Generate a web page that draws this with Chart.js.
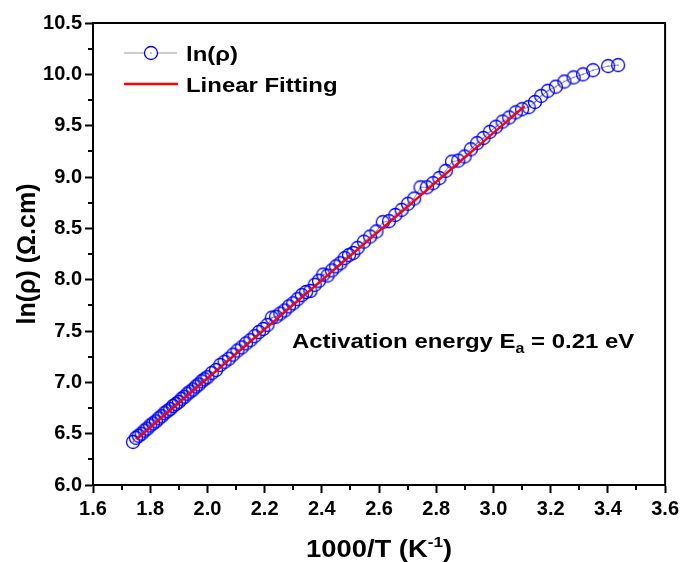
<!DOCTYPE html>
<html>
<head>
<meta charset="utf-8">
<script src="https://cdn.jsdelivr.net/npm/chart.js@4.4.0/dist/chart.umd.min.js"></script>
<style>
  html, body { margin: 0; padding: 0; background: #fff; }
  #wrap { width: 683px; height: 562px; position: relative; }
</style>
</head>
<body>
<div id="wrap"><canvas id="chart"></canvas></div>
<script>
// 1000/T (K^-1) values
const invT = [
  1.740, 1.750, 1.760, 1.770, 1.780, 1.790, 1.800, 1.810, 1.820, 1.830,
  1.840, 1.850, 1.860, 1.870, 1.880, 1.890, 1.900, 1.910, 1.920, 1.930,
  1.940, 1.950, 1.960, 1.970, 1.980, 1.990, 2.000, 2.015, 2.030, 2.045,
  2.060, 2.075, 2.090, 2.105, 2.120, 2.135, 2.150, 2.165, 2.180, 2.195,
  2.210, 2.225, 2.240, 2.255, 2.270, 2.285, 2.300, 2.315, 2.330, 2.345,
  2.360, 2.375, 2.390, 2.405, 2.420, 2.435, 2.450, 2.465, 2.480, 2.495,
  2.510, 2.525, 2.547, 2.569, 2.591, 2.613, 2.635, 2.657, 2.679, 2.701,
  2.723, 2.745, 2.767, 2.789, 2.811, 2.833, 2.855, 2.877, 2.899, 2.921,
  2.943, 2.965, 2.987, 3.009, 3.032, 3.055, 3.078, 3.100, 3.123, 3.145,
  3.167, 3.190, 3.218, 3.248, 3.280, 3.313, 3.348, 3.401, 3.436
];
// ln(rho) (ohm.cm)
const lnRho = [
  6.42, 6.46, 6.48, 6.50, 6.53, 6.55, 6.58, 6.60, 6.62, 6.65,
  6.67, 6.70, 6.72, 6.74, 6.77, 6.79, 6.81, 6.84, 6.86, 6.89,
  6.91, 6.93, 6.96, 6.98, 7.01, 7.03, 7.05, 7.09, 7.12, 7.17,
  7.20, 7.23, 7.27, 7.31, 7.34, 7.38, 7.41, 7.45, 7.49, 7.52,
  7.56, 7.63, 7.64, 7.67, 7.70, 7.74, 7.77, 7.81, 7.85, 7.88,
  7.89, 7.95, 7.99, 8.05, 8.04, 8.09, 8.13, 8.16, 8.21, 8.24,
  8.26, 8.31, 8.37, 8.42, 8.47, 8.56, 8.57, 8.63, 8.68, 8.74,
  8.79, 8.90, 8.90, 8.94, 8.99, 9.06, 9.15, 9.16, 9.20, 9.27,
  9.33, 9.38, 9.44, 9.49, 9.54, 9.58, 9.63, 9.66, 9.68, 9.73,
  9.79, 9.84, 9.88, 9.93, 9.97, 10.00, 10.04, 10.08, 10.09
];
// linear fit end points
const fitX = [1.752, 3.109];
const fitY = [6.444, 9.690];

const xTicks = [1.6, 1.8, 2.0, 2.2, 2.4, 2.6, 2.8, 3.0, 3.2, 3.4, 3.6];
const yTicks = [6.0, 6.5, 7.0, 7.5, 8.0, 8.5, 9.0, 9.5, 10.0, 10.5];

const BLUE = '#0000f5';
const FONT = '"Liberation Sans", Arial, sans-serif';
const STRETCH = 1.14; // reference text is a bit wide

// circle with a dot in the middle (Origin style symbol)
function makeSymbol() {
    const c = document.createElement('canvas');
    c.width = 16; c.height = 16;
    const g = c.getContext('2d');
    g.strokeStyle = BLUE;
    g.lineWidth = 1.3;
    g.beginPath();
    g.arc(8, 8, 6.5, 0, Math.PI * 2);
    g.stroke();
    g.fillStyle = BLUE;
    g.fillRect(7.5, 7.5, 1, 1);
    return c;
}
const symbol = makeSymbol();

const pts = invT.map((x, i) => ({ x: x, y: lnRho[i] }));
const fitPts = fitX.map((x, i) => ({ x: x, y: fitY[i] }));

// draws text pieces [text, size, dy] stretched horizontally from x
function wideText(ctx, parts, x, y) {
    ctx.save();
    ctx.translate(x, y);
    ctx.scale(STRETCH, 1);
    let cx = 0;
    for (const [t, size, dy] of parts) {
        ctx.font = 'bold ' + size + 'px ' + FONT;
        ctx.fillText(t, cx, dy);
        cx += ctx.measureText(t).width;
    }
    ctx.restore();
    return cx * STRETCH;
}
function wideWidth(ctx, parts) {
    let w = 0;
    ctx.save();
    for (const [t, size] of parts) {
        ctx.font = 'bold ' + size + 'px ' + FONT;
        w += ctx.measureText(t).width;
    }
    ctx.restore();
    return w * STRETCH;
}

// frame, minor ticks, legend, annotation, x title
const decor = {
    id: 'decor',
    afterDraw(chart) {
        const { ctx, chartArea: a, scales } = chart;
        const sx = scales.x, sy = scales.y;
        ctx.save();
        ctx.strokeStyle = '#000';
        ctx.lineWidth = 2;
        ctx.strokeRect(a.left, a.top, a.right - a.left, a.bottom - a.top);

        // minor ticks
        ctx.beginPath();
        for (let i = 0; i < xTicks.length - 1; i++) {
            const px = Math.round(sx.getPixelForValue((xTicks[i] + xTicks[i + 1]) / 2));
            ctx.moveTo(px, a.bottom);
            ctx.lineTo(px, a.bottom + 5);
        }
        for (let i = 0; i < yTicks.length - 1; i++) {
            const py = Math.round(sy.getPixelForValue((yTicks[i] + yTicks[i + 1]) / 2));
            ctx.moveTo(a.left, py);
            ctx.lineTo(a.left - 5, py);
        }
        ctx.stroke();

        // legend
        ctx.strokeStyle = '#9a9a9a';
        ctx.lineWidth = 1;
        ctx.beginPath();
        ctx.moveTo(124, 53); ctx.lineTo(177, 53);
        ctx.stroke();
        ctx.fillStyle = '#fff';
        ctx.beginPath(); ctx.arc(151, 53, 6.5, 0, Math.PI * 2); ctx.fill();
        ctx.drawImage(symbol, 143, 45);
        ctx.strokeStyle = '#ff0000';
        ctx.lineWidth = 2.5;
        ctx.beginPath();
        ctx.moveTo(124, 84); ctx.lineTo(178, 84);
        ctx.stroke();
        ctx.fillStyle = '#000';
        ctx.textBaseline = 'alphabetic';
        ctx.textAlign = 'left';
        wideText(ctx, [['ln(ρ)', 21, 0]], 186, 61);
        wideText(ctx, [['Linear Fitting', 21, 0]], 186, 92);

        // annotation with subscript
        wideText(ctx, [['Activation energy E', 21, 0], ['a', 14, 5], [' = 0.21 eV', 21, 0]], 292, 348);

        // x axis title with superscript
        const title = [['1000/T (K', 24, 0], ['-1', 15, -10], [')', 24, 0]];
        const tw = wideWidth(ctx, title);
        wideText(ctx, title, (a.left + a.right) / 2 - tw / 2, 557);
        ctx.restore();
    }
};

new Chart(document.getElementById('chart'), {
    type: 'scatter',
    data: {
        datasets: [
            {
                label: 'Linear Fitting',
                data: fitPts,
                showLine: true,
                borderColor: '#ff0000',
                borderWidth: 2.5,
                pointRadius: 0,
                order: 0
            },
            {
                label: 'ln(ρ)',
                data: pts,
                showLine: true,
                borderColor: '#9a9a9a',
                borderWidth: 1,
                pointStyle: symbol,
                pointRadius: 7,
                order: 1
            }
        ]
    },
    options: {
        responsive: true,
        maintainAspectRatio: false,
        animation: false,
        layout: { padding: { top: 23, right: 16, left: 0, bottom: 0 } },
        plugins: {
            legend: { display: false },
            tooltip: { enabled: false }
        },
        scales: {
            x: {
                type: 'linear',
                min: 1.6, max: 3.6,
                afterBuildTicks: (s) => { s.ticks = xTicks.map(v => ({ value: v })); },
                afterFit: (s) => { s.height = 77; },
                border: { display: true, color: '#000', width: 2 },
                grid: { display: true, drawOnChartArea: false, drawTicks: true, tickLength: 8, tickWidth: 2, tickColor: '#000' },
                ticks: {
                    color: '#000',
                    padding: 4,
                    font: { family: FONT, size: 20, weight: 'bold' },
                    callback: (v) => v.toFixed(1)
                }
            },
            y: {
                type: 'linear',
                min: 6.0, max: 10.5,
                afterBuildTicks: (s) => { s.ticks = yTicks.map(v => ({ value: v })); },
                afterFit: (s) => { s.width = 93; },
                border: { display: true, color: '#000', width: 2 },
                grid: { display: true, drawOnChartArea: false, drawTicks: true, tickLength: 8, tickWidth: 2, tickColor: '#000' },
                ticks: {
                    color: '#000',
                    padding: 3,
                    font: { family: FONT, size: 20, weight: 'bold' },
                    callback: (v) => v.toFixed(1)
                },
                title: {
                    display: true,
                    text: 'ln(ρ) (Ω.cm)',
                    color: '#000',
                    font: { family: FONT, size: 25, weight: 'bold' },
                    padding: { top: 13, bottom: 0 }
                }
            }
        }
    },
    plugins: [decor]
});
</script>
</body>
</html>
